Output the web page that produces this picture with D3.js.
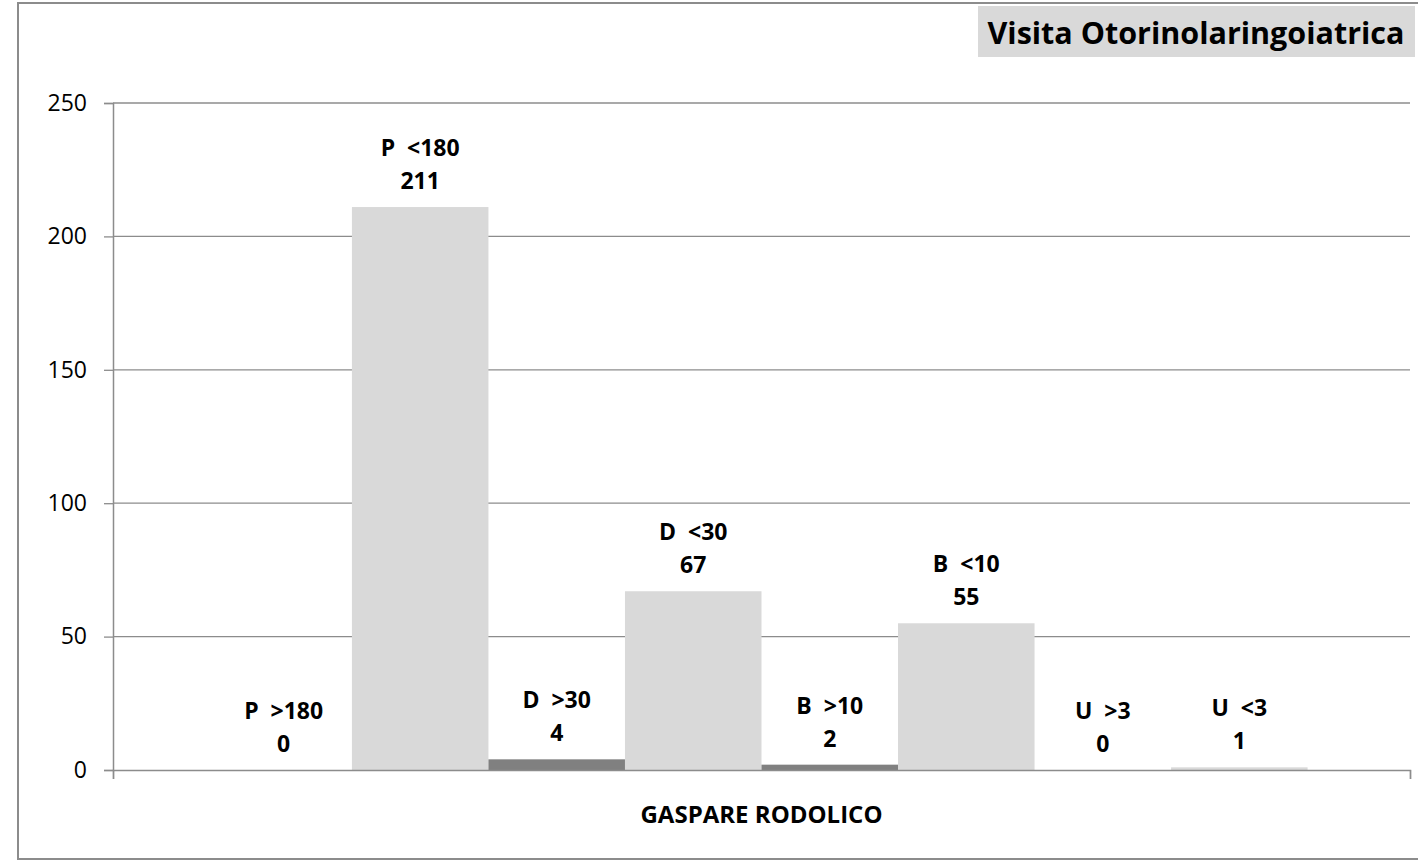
<!DOCTYPE html>
<html><head><meta charset="utf-8">
<script src="https://cdn.jsdelivr.net/npm/d3@7"></script>
<style>html,body{margin:0;padding:0;background:#fff;} svg{display:block;font-family:"Open Sans", sans-serif;}</style>
</head><body>
<svg id="chart" width="1418" height="862"></svg>
<script>
const categories = ["P  >180","P  <180","D  >30","D  <30","B  >10","B  <10","U  >3","U  <3"];
const values = [0, 211, 4, 67, 2, 55, 0, 1];
const kinds = ["over","within","over","within","over","within","over","within"];
const yTicks = [0, 50, 100, 150, 200, 250];
const groupLabel = "GASPARE RODOLICO";
const title = "Visita Otorinolaringoiatrica";

const svg = d3.select("#chart");
const m = {left:113, right:1410, top:103, bottom:770};

svg.append("rect").attr("x",18).attr("y",3).attr("width",1420).attr("height",856)
  .attr("fill","none").attr("stroke","#8c8c8c").attr("stroke-width",2);

const y = d3.scaleLinear().domain([0,250]).range([m.bottom, m.top]);
const x = d3.scaleBand().domain(categories).range([m.left, m.right]).paddingInner(0).paddingOuter(0.75);
const color = d3.scaleOrdinal().domain(["over","within"]).range(["#808080","#d9d9d9"]);

svg.append("g").selectAll("line").data(yTicks.filter(d=>d>0)).join("line")
  .attr("x1",m.left).attr("x2",m.right).attr("y1",d=>y(d)).attr("y2",d=>y(d))
  .attr("stroke","#8c8c8c").attr("stroke-width",1.3);

const yAxis = svg.append("g").attr("transform",`translate(${m.left},0)`)
  .call(d3.axisLeft(y).tickValues(yTicks).tickSize(9).tickPadding(17).tickFormat(d3.format("d")));
yAxis.select(".domain").attr("stroke","#8c8c8c").attr("stroke-width",1.5);
yAxis.selectAll(".tick line").attr("stroke","#8c8c8c").attr("stroke-width",1.3);
yAxis.selectAll(".tick text").attr("font-size",23).attr("fill","#000").attr("font-family","'Open Sans', sans-serif");

svg.append("g").selectAll("rect").data(values).join("rect")
  .attr("x",(d,i)=>x(categories[i])).attr("width",x.bandwidth())
  .attr("y",d=>y(d)).attr("height",d=>y(0)-y(d))
  .attr("fill",(d,i)=>color(kinds[i]));

const xAxis = svg.append("g").attr("transform",`translate(0,${m.bottom})`)
  .call(d3.axisBottom(d3.scaleLinear().domain([0,1]).range([m.left,m.right])).tickValues([0,1]).tickSize(9).tickFormat(""));
xAxis.select(".domain").attr("stroke","#8c8c8c").attr("stroke-width",1.5);
xAxis.selectAll(".tick line").attr("stroke","#8c8c8c").attr("stroke-width",1.3);

const lbl = svg.append("g").attr("font-weight","bold").attr("font-size",23).attr("text-anchor","middle").attr("fill","#000");
values.forEach((v,i)=>{
  const cx = x(categories[i]) + x.bandwidth()/2;
  lbl.append("text").attr("x",cx).attr("y",y(v)-51).attr("xml:space","preserve").style("white-space","pre").text(categories[i]);
  lbl.append("text").attr("x",cx).attr("y",y(v)-18).text(v);
});

svg.append("text").attr("x",(m.left+m.right)/2).attr("y",823).attr("text-anchor","middle")
  .attr("font-weight","bold").attr("font-size",24).text(groupLabel);

svg.append("rect").attr("x",978).attr("y",6).attr("width",437).attr("height",51).attr("fill","#d9d9d9");
svg.append("text").attr("x",1196).attr("y",44).attr("text-anchor","middle")
  .attr("font-weight","bold").attr("font-size",30.5).attr("fill","#000").text(title);
</script>
</body></html>
